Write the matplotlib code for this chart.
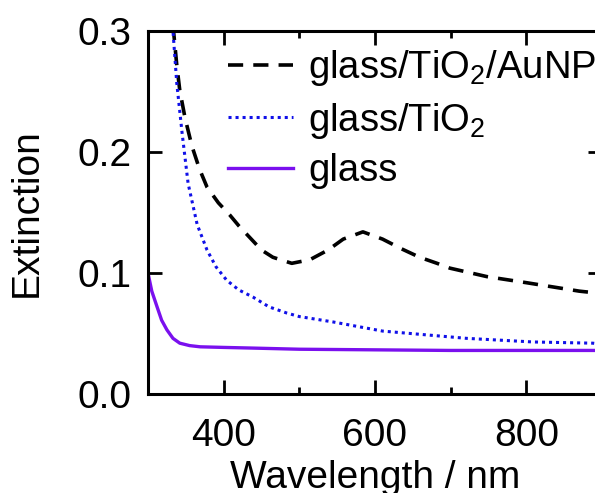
import matplotlib
matplotlib.use("Agg")
import matplotlib.pyplot as plt
import numpy as np
from matplotlib.ticker import MultipleLocator

plt.rcParams['font.family'] = ['Liberation Sans', 'DejaVu Sans']
plt.rcParams['mathtext.fontset'] = 'custom'
plt.rcParams['mathtext.rm'] = 'Liberation Sans'
plt.rcParams['mathtext.it'] = 'Liberation Sans:italic'
plt.rcParams['mathtext.default'] = 'regular'

# glass/TiO2/AuNP (black dashed)
wl_au = [333, 338, 342, 349, 358, 368, 378, 393, 408, 420, 435, 450, 465, 490, 514, 538,
         558, 584, 610, 635, 659, 682, 699, 748, 800, 870, 900]
ext_au = [0.305, 0.272, 0.251, 0.228, 0.205, 0.186, 0.171, 0.158, 0.148, 0.139, 0.129,
          0.119, 0.113, 0.108, 0.111, 0.119, 0.128, 0.134, 0.128, 0.120, 0.113, 0.108,
          0.104, 0.097, 0.092, 0.085, 0.083]

# glass/TiO2 (blue dotted)
wl_ti = [331, 333, 338, 345, 353, 365, 378, 390, 404, 420, 439, 460, 483, 500, 545, 610,
         721, 809, 888, 900]
ext_ti = [0.31, 0.30, 0.257, 0.216, 0.174, 0.140, 0.119, 0.105, 0.094, 0.086, 0.080,
          0.072, 0.067, 0.064, 0.0595, 0.052, 0.046, 0.043, 0.042, 0.041]

# glass (purple solid)
wl_gl = [300, 305, 312, 318, 325, 333, 342, 355, 369, 400, 435, 500, 600, 700, 800, 890, 900]
ext_gl = [0.100, 0.085, 0.072, 0.061, 0.053, 0.046, 0.042, 0.040, 0.039, 0.0385, 0.038,
          0.037, 0.0365, 0.036, 0.036, 0.036, 0.036]

labels = ["glass/TiO$_2$/AuNP", "glass/TiO$_2$", "glass"]

fig = plt.figure(figsize=(5.95, 4.93), dpi=100)
ax = fig.add_axes([148/595, 1 - 394/493, 454/595, 363/493])

ax.plot(wl_au, ext_au, color='black', lw=2.6, linestyle=(0, (4.2, 2.8)), label=labels[0])
ax.plot(wl_ti, ext_ti, color='#1010e8', lw=2.2, linestyle=(0, (1, 1.3)), label=labels[1])
ax.plot(wl_gl, ext_gl, color='#7a10ee', lw=2.4, linestyle='-', label=labels[2])

ax.set_xlim(300, 900)
ax.set_ylim(0.0, 0.3)
ax.set_xticks([400, 600, 800])
ax.xaxis.set_minor_locator(MultipleLocator(100))
ax.set_yticks([0.0, 0.1, 0.2, 0.3])
ax.set_yticklabels(["0.0", "0.1", "0.2", "0.3"])

for s in ax.spines.values():
    s.set_linewidth(2.2)

ax.tick_params(which='major', direction='in', length=10, width=2.0, top=True, right=True,
               labelsize=28)
ax.tick_params(axis='x', which='major', pad=17)
ax.tick_params(axis='y', which='major', pad=12)
ax.tick_params(which='minor', direction='in', length=5, width=2.0, top=True, right=False)
ax.tick_params(axis='y', which='minor', left=False, right=False)

ax.set_xlabel("Wavelength / nm", fontsize=28)
ax.set_ylabel("Extinction", fontsize=28)
ax.xaxis.set_label_coords(0.5, -0.182)
ax.yaxis.set_label_coords(-0.227, 0.5)

leg = ax.legend(loc='upper left', bbox_to_anchor=(228/595, 1 - 48/493),
                bbox_transform=fig.transFigure, frameon=False, fontsize=27.5,
                handlelength=1.7, handletextpad=0.4, labelspacing=0.33, borderpad=0,
                borderaxespad=0)

fig.savefig("out.png", dpi=100)
